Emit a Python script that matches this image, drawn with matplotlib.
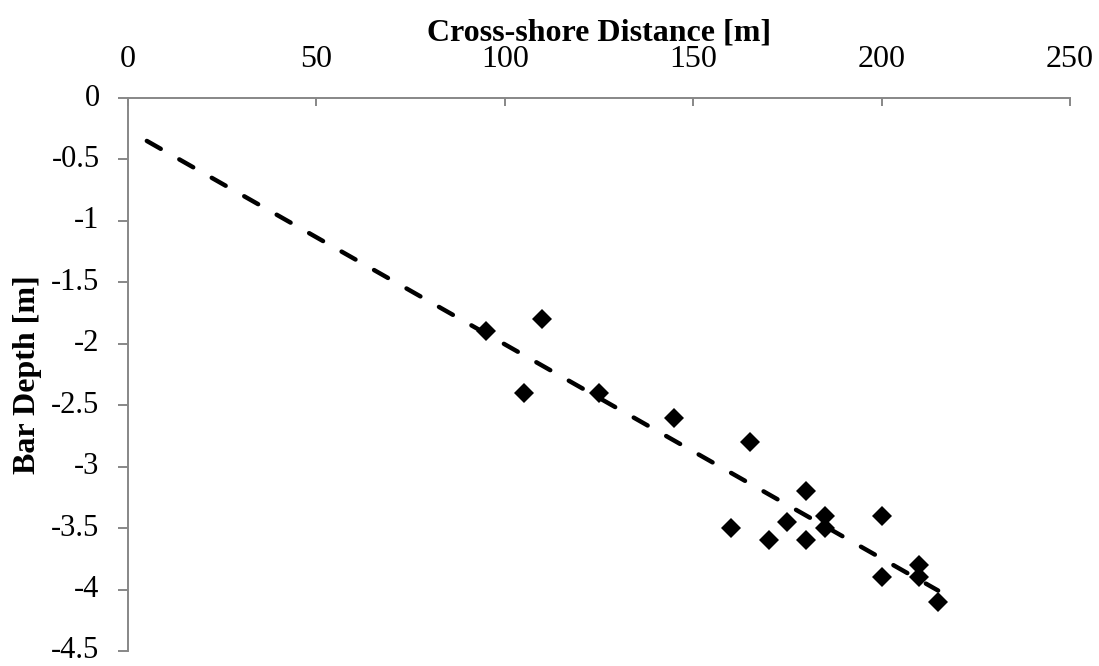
import numpy as np
import matplotlib
matplotlib.use("Agg")
import matplotlib.pyplot as plt

# Bar crest position vs. depth
distance_m = [95, 110, 105, 125, 145, 165, 160, 170, 175, 180, 180,
              185, 185, 200, 200, 210, 210, 215]
bar_depth_m = [-1.9, -1.8, -2.4, -2.4, -2.6, -2.8, -3.5, -3.6, -3.45, -3.2, -3.6,
               -3.4, -3.5, -3.4, -3.9, -3.8, -3.9, -4.1]

x_ticks = [0, 50, 100, 150, 200, 250]
y_ticks = [0, -0.5, -1, -1.5, -2, -2.5, -3, -3.5, -4, -4.5]
y_tick_labels = ["0", "-0.5", "-1", "-1.5", "-2", "-2.5", "-3", "-3.5", "-4", "-4.5"]

# Linear trend line range
trend_start, trend_end = 5, 215

plt.rcParams["font.family"] = ["Liberation Serif", "DejaVu Serif"]

fig = plt.figure(figsize=(10.99, 6.66), dpi=100)
ax = fig.add_axes([128 / 1099, 1 - 651 / 666, (1070 - 128) / 1099, (651 - 98) / 666])

slope, intercept = np.polyfit(distance_m, bar_depth_m, 1)
xt = np.array([trend_start, trend_end])
ax.plot(xt, slope * xt + intercept, color="black", lw=3.2,
        dashes=(3.6, 4.8), dash_capstyle="round", zorder=2)

ax.plot(distance_m, bar_depth_m, linestyle="none", marker="D", markersize=10,
        color="black", markeredgewidth=0, zorder=3)

ax.set_xlim(0, 250)
ax.set_ylim(-4.5, 0)
ax.set_xticks(x_ticks)
ax.set_yticks(y_ticks)
ax.set_yticklabels(y_tick_labels)
for lbl in ax.get_yticklabels():
    lbl.set_verticalalignment("center")

spine_color = "#878787"
for side in ("right", "bottom"):
    ax.spines[side].set_visible(False)
for side in ("top", "left"):
    ax.spines[side].set_color(spine_color)
    ax.spines[side].set_linewidth(1.4)

ax.xaxis.tick_top()
ax.xaxis.set_label_position("top")
ax.tick_params(axis="x", direction="in", length=6, width=1.4, color=spine_color,
               labelsize=23, pad=17.5)
ax.tick_params(axis="y", direction="out", length=7, width=1.4, color=spine_color,
               labelsize=22, pad=13.5)

ax.set_xlabel("Cross-shore Distance [m]", fontsize=23, fontweight="bold", labelpad=3)
ax.set_ylabel("Bar Depth [m]", fontsize=23, fontweight="bold", labelpad=7)

fig.savefig("out.png", dpi=100)
